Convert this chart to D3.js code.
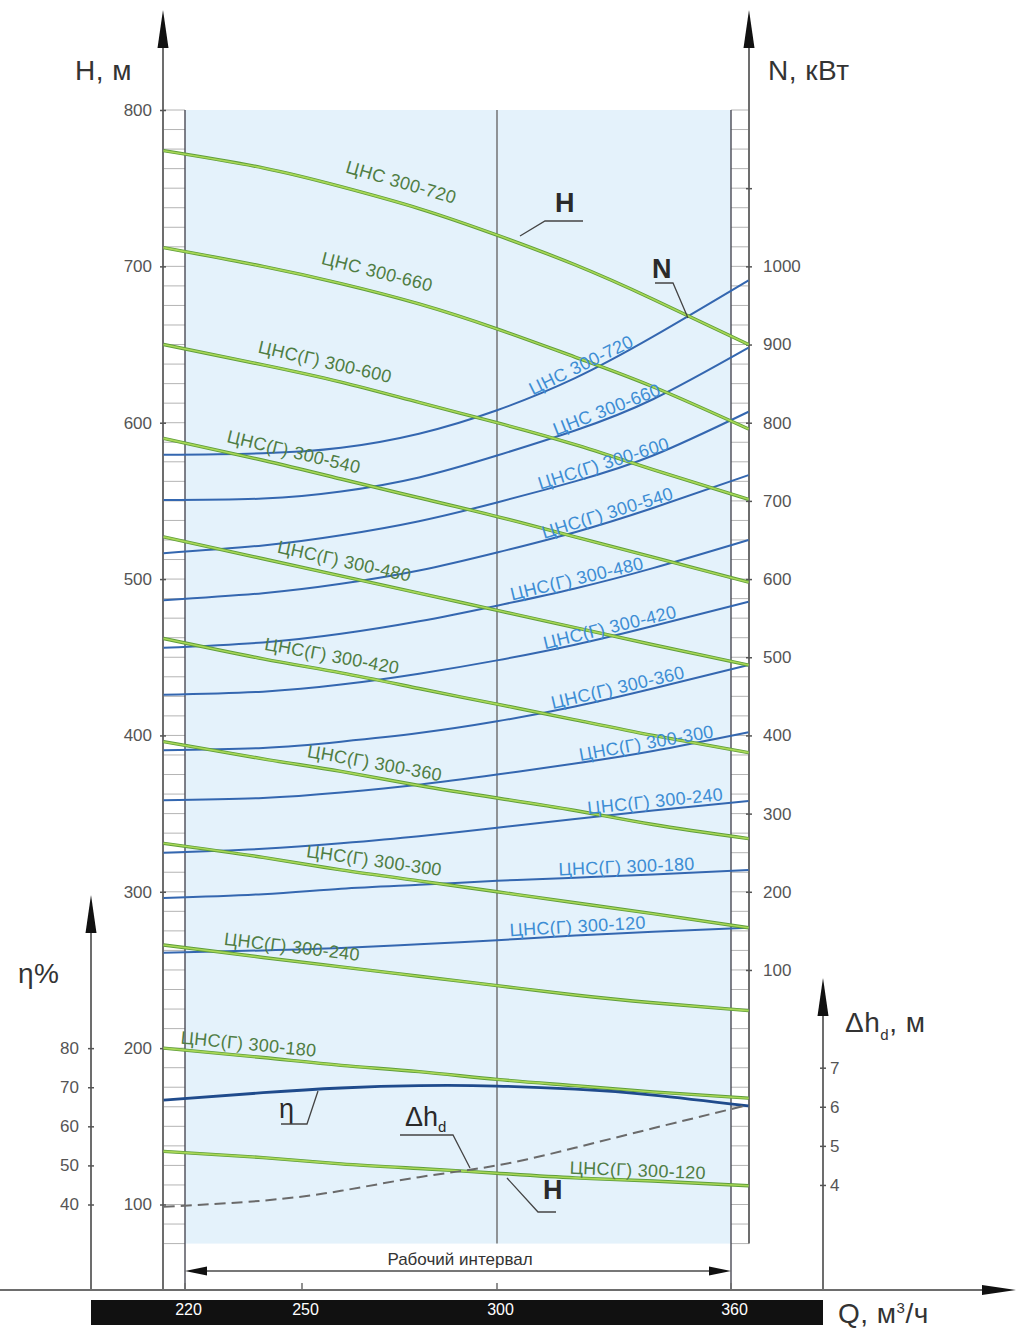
<!DOCTYPE html>
<html><head><meta charset="utf-8">
<script src="https://cdn.jsdelivr.net/npm/d3@7"></script>
<style>body{margin:0;background:#fff} svg{display:block}</style>
</head><body>
<svg id="chart" width="1018" height="1329"></svg>
<script>
// ---------------- DATA ----------------
const flowQ = [214.5, 240, 260, 280, 300, 320, 340, 364.5];
const pumpNames = ["ЦНС 300-720","ЦНС 300-660","ЦНС(Г) 300-600","ЦНС(Г) 300-540","ЦНС(Г) 300-480","ЦНС(Г) 300-420","ЦНС(Г) 300-360","ЦНС(Г) 300-300","ЦНС(Г) 300-240","ЦНС(Г) 300-180","ЦНС(Г) 300-120"];
const headValues = [
  [774, 763, 751, 737, 720, 701, 679, 650],
  [712, 700, 689, 676, 660, 642, 623, 596],
  [650, 637, 626, 613, 600, 586, 570, 551],
  [590, 576, 564, 552, 540, 527, 514, 498],
  [527, 513, 502, 491, 480, 469, 458, 445],
  [462, 449, 440, 430, 420, 410, 400, 389],
  [396, 385, 377, 368, 360, 352, 343, 334],
  [331, 322, 314, 307, 300, 293, 286, 277],
  [266, 258, 252, 246, 240, 234, 229, 224],
  [200, 194, 189, 185, 180, 176, 172, 168],
  [134, 130, 126, 123, 120, 117, 115, 112]
];
const powerValues = [
  [759, 761, 768, 786, 816, 857, 910, 982],
  [701, 703, 712, 730, 758, 790, 830, 896],
  [633, 643, 656, 674, 698, 725, 758, 814],
  [573, 582, 594, 611, 634, 660, 691, 733],
  [512, 519, 530, 546, 566, 588, 614, 650],
  [452, 456, 465, 479, 496, 516, 540, 571],
  [381, 384, 392, 403, 418, 437, 460, 490],
  [317, 320, 327, 337, 350, 364, 380, 404],
  [250, 255, 262, 271, 282, 293, 304, 316],
  [192, 197, 204, 209, 214, 218, 222, 228],
  [122, 125, 128, 133, 138, 144, 149, 154]
];
const efficiencyValues = [66.7, 68.6, 69.8, 70.4, 70.3, 69.5, 68.0, 65.2];
const npshValues = [3.44, 3.6, 3.85, 4.2, 4.5, 4.95, 5.45, 6.05];
const headLabelQ = [274, 268, 255, 247, 260, 257, 268, 268, 247, 236, 336];
const powerLabelQ = [322.6, 329, 328, 329, 321, 329.5, 331.5, 338.7, 340.8, 333.3, 320.8];
const headTicks = [100, 200, 300, 400, 500, 600, 700, 800];
const powerTicks = [100, 200, 300, 400, 500, 600, 700, 800, 900, 1000, 1100];
const effTicks = [40, 50, 60, 70, 80];
const npshTicks = [4, 5, 6, 7];
const flowTicks = [220, 250, 300, 360];

// ---------------- LAYOUT ----------------
const FONT = "'Liberation Sans Narrow','Arial Narrow','Liberation Sans',Arial,sans-serif";
const FONT2 = "'Liberation Sans',Arial,sans-serif";
const headLabelGap = [14, 14, 10, 9, 9, 9, 8, 8, 8, 6, 4];
const powerLabelGap = [3, 3, 3, 3, 3, 3, 3, 3, 3, 3, 3];

const svg = d3.select('#chart');
const x = d3.scaleLinear().domain([220, 360]).range([185, 731]);
const yH = d3.scaleLinear().domain([100, 800]).range([1204.5, 110]);
const yN = d3.scaleLinear().domain([0, 1200]).range([yH(200), yH(800)]);
const yE = d3.scaleLinear().domain([40, 80]).range([yH(100), yH(200)]);
const yD = d3.scaleLinear().domain([4, 7]).range([yH(112.5), yH(187.5)]);

const TOP = yH(800), BOT = yH(75), XAX = 1290;
const AX = '#6d6d6d';

// shaded working area
svg.append('rect').attr('x', x(220)).attr('y', TOP).attr('width', x(360) - x(220)).attr('height', BOT - TOP)
  .attr('fill', '#e4f2fb');

// ladders
const rungs = d3.range(75, 800.01, 12.5);
svg.append('g').selectAll('line').data(rungs).join('line')
  .attr('x1', 163).attr('x2', x(220)).attr('y1', d => yH(d)).attr('y2', d => yH(d))
  .attr('stroke', '#b4b4b4').attr('stroke-width', 1);
svg.append('g').selectAll('line').data(rungs).join('line')
  .attr('x1', x(360)).attr('x2', 749).attr('y1', d => yH(d)).attr('y2', d => yH(d))
  .attr('stroke', '#b4b4b4').attr('stroke-width', 1);

// vertical lines
function vline(xx, y1, y2, c, w) {
  svg.append('line').attr('x1', xx).attr('x2', xx).attr('y1', y1).attr('y2', y2).attr('stroke', c).attr('stroke-width', w);
}
vline(x(220), TOP, XAX, '#4a4a55', 1.4);
vline(x(360), TOP, XAX, '#4a4a55', 1.4);
vline(x(300), TOP, BOT, '#6a6a6a', 1.4);
vline(163, 40, XAX, AX, 2);
vline(749, 40, BOT, AX, 2);
vline(91, 930, XAX, AX, 2);
vline(823, 1015, XAX, AX, 2);

// x axis line
svg.append('line').attr('x1', 0).attr('x2', 990).attr('y1', XAX).attr('y2', XAX).attr('stroke', AX).attr('stroke-width', 2);
svg.selectAll('.xt').data(flowTicks).join('line').attr('class', 'xt')
  .attr('x1', d => x(d)).attr('x2', d => x(d)).attr('y1', XAX - 7).attr('y2', XAX).attr('stroke', AX).attr('stroke-width', 1.5);

// arrows
function upArrow(cx, tip) {
  svg.append('path').attr('d', `M${cx},${tip} L${cx - 5.5},${tip + 38} L${cx + 5.5},${tip + 38} Z`).attr('fill', '#111');
}
upArrow(163, 10); upArrow(749, 10); upArrow(91, 895); upArrow(823, 978);
svg.append('path').attr('d', `M1016,${XAX} L982,${XAX - 5} L982,${XAX + 5} Z`).attr('fill', '#111');

// black bar with Q labels
svg.append('rect').attr('x', 91).attr('y', 1300).attr('width', 823 - 91).attr('height', 25).attr('fill', '#111');
const xAxisG = svg.append('g').attr('transform', 'translate(3,1298)')
  .call(d3.axisBottom(x).tickValues(flowTicks).tickSize(0).tickPadding(6));
xAxisG.select('.domain').remove();
xAxisG.selectAll('text').attr('fill', '#fff').style('font-size', '16px').style('font-family', FONT);

// working interval arrow
const wy = 1271;
svg.append('line').attr('x1', x(220) + 10).attr('x2', x(360) - 10).attr('y1', wy).attr('y2', wy).attr('stroke', '#777').attr('stroke-width', 2);
svg.append('path').attr('d', `M${x(220)},${wy} L${x(220) + 22},${wy - 4.5} L${x(220) + 22},${wy + 4.5} Z`).attr('fill', '#111');
svg.append('path').attr('d', `M${x(360)},${wy} L${x(360) - 22},${wy - 4.5} L${x(360) - 22},${wy + 4.5} Z`).attr('fill', '#111');
svg.append('text').attr('x', 460).attr('y', 1265).attr('text-anchor', 'middle').attr('fill', '#333')
  .style('font-size', '17px').style('font-family', FONT).text('Рабочий интервал');

// axes
function styleAxis(g) {
  g.select('.domain').remove();
  g.selectAll('.tick line').attr('stroke', '#555').attr('stroke-width', 1.5);
  g.selectAll('.tick text').attr('fill', '#555').style('font-size', '17px').style('font-family', FONT);
}
svg.append('g').attr('transform', 'translate(166,0)')
  .call(d3.axisLeft(yH).tickValues(headTicks).tickSize(6).tickPadding(8)).call(styleAxis);
svg.append('g').attr('transform', 'translate(746,0)')
  .call(d3.axisRight(yN).tickValues(powerTicks).tickSize(6).tickPadding(11).tickFormat(d => d === 1100 ? '' : d)).call(styleAxis);
svg.append('g').attr('transform', 'translate(94,0)')
  .call(d3.axisLeft(yE).tickValues(effTicks).tickSize(6).tickPadding(9)).call(styleAxis);
svg.append('g').attr('transform', 'translate(820,0)')
  .call(d3.axisRight(yD).tickValues(npshTicks).tickSize(6).tickPadding(4).tickFormat(d3.format('d'))).call(styleAxis);

// axis titles
function title(xx, yy, txt) {
  return svg.append('text').attr('x', xx).attr('y', yy).attr('fill', '#333')
    .style('font-size', '28px').style('letter-spacing', '0.5px').style('font-family', FONT2).text(txt);
}
title(75, 80, 'H, м');
title(768, 80, 'N, кВт');
title(18, 983, 'η%');
const dt = title(845, 1032, 'Δh');
dt.append('tspan').attr('dy', 8).style('font-size', '15px').text('d');
dt.append('tspan').attr('dy', -8).text(', м');
const qt = title(838, 1323, 'Q, м');
qt.append('tspan').attr('dy', -10).style('font-size', '15px').text('3');
qt.append('tspan').attr('dy', 10).text('/ч');

// curves
const pts = vals => vals.map((v, i) => [flowQ[i], v]);
const lineH = d3.line().x(d => x(d[0])).y(d => yH(d[1])).curve(d3.curveNatural);
const lineN = d3.line().x(d => x(d[0])).y(d => yN(d[1])).curve(d3.curveNatural);
const lineE = d3.line().x(d => x(d[0])).y(d => yE(d[1])).curve(d3.curveNatural);
const lineD = d3.line().x(d => x(d[0])).y(d => yD(d[1])).curve(d3.curveNatural);

const gCurves = svg.append('g');
const labelsG = svg.append('g');

function placeLabel(node, q, text, gap, color) {
  const tx = x(q);
  const L = node.getTotalLength();
  let lo = 0, hi = L;
  for (let i = 0; i < 30; i++) {
    const m = (lo + hi) / 2;
    if (node.getPointAtLength(m).x < tx) lo = m; else hi = m;
  }
  const p = node.getPointAtLength(lo);
  const p1 = node.getPointAtLength(Math.max(0, lo - 25)), p2 = node.getPointAtLength(Math.min(L, lo + 25));
  const ang = Math.atan2(p2.y - p1.y, p2.x - p1.x) * 180 / Math.PI;
  labelsG.append('text').attr('transform', `translate(${p.x},${p.y}) rotate(${ang})`)
    .attr('y', -gap).attr('text-anchor', 'middle').attr('fill', color)
    .style('font-size', '18px').style('letter-spacing', '0.3px').style('font-family', FONT).text(text);
}

// power (blue)
powerValues.forEach((vals, i) => {
  const path = gCurves.append('path').attr('d', lineN(pts(vals))).attr('fill', 'none')
    .attr('stroke', '#3467b0').attr('stroke-width', 2);
  placeLabel(path.node(), powerLabelQ[i], pumpNames[i], powerLabelGap[i], '#3d8dd4');
});
// head (green)
headValues.forEach((vals, i) => {
  gCurves.append('path').attr('d', lineH(pts(vals))).attr('fill', 'none')
    .attr('stroke', '#5f9e3a').attr('stroke-width', 3.4);
  const path = gCurves.append('path').attr('d', lineH(pts(vals))).attr('fill', 'none')
    .attr('stroke', '#a9d857').attr('stroke-width', 1.6);
  placeLabel(path.node(), headLabelQ[i], pumpNames[i], headLabelGap[i], '#4f7d43');
});
// efficiency
gCurves.append('path').attr('d', lineE(pts(efficiencyValues))).attr('fill', 'none')
  .attr('stroke', '#1f4b8c').attr('stroke-width', 2.8);
// NPSH dashed
gCurves.append('path').attr('d', lineD(pts(npshValues))).attr('fill', 'none')
  .attr('stroke', '#6a6a6a').attr('stroke-width', 2).attr('stroke-dasharray', '11,6');

// callouts
function leader(points) {
  svg.append('path').attr('d', d3.line()(points)).attr('fill', 'none').attr('stroke', '#444').attr('stroke-width', 1.3);
}
function callout(xx, yy, txt) {
  return svg.append('text').attr('x', xx).attr('y', yy).attr('fill', '#2a2a2a')
    .style('font-size', '27px').style('font-weight', 'bold').style('font-family', FONT2).text(txt);
}
callout(555, 212, 'H');
leader([[520, 236], [545, 221], [583, 221]]);
callout(652, 278, 'N');
leader([[688, 318], [673, 283], [655, 283]]);
const eta = callout(279, 1118, 'η'); eta.style('font-weight', 'normal');
leader([[318, 1091], [307, 1124], [281, 1124]]);
const dh = callout(405, 1126, 'Δh'); dh.style('font-weight', 'normal');
dh.append('tspan').attr('dy', 6).style('font-size', '15px').text('d');
leader([[400, 1135], [453, 1135], [470, 1168]]);
callout(543, 1199, 'H');
leader([[507, 1178], [538, 1212], [556, 1212]]);
</script>
</body></html>
